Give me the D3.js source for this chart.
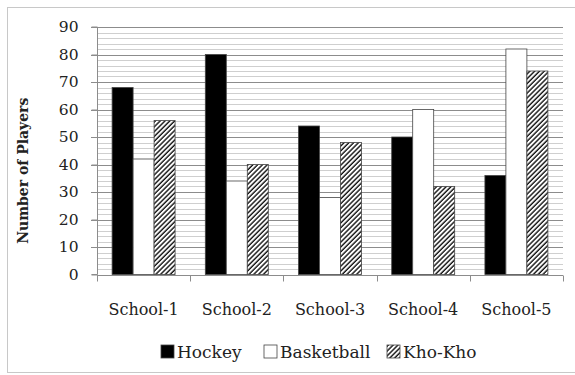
<!DOCTYPE html>
<html lang="en">
<head>
  <meta charset="UTF-8">
  <title>Number of Players by School</title>
  <script src="https://d3js.org/d3.v7.min.js"></script>
  <style>
    body { margin: 0; background: #fff; }
    svg { font-family: "DejaVu Serif", serif; }
    .tick text { fill: #222; }
  </style>
</head>
<body>
  <div id="chart"></div>
  <script>
    // Data
    const schools = ["School-1", "School-2", "School-3", "School-4", "School-5"];
    const series = ["Hockey", "Basketball", "Kho-Kho"];
    const hockey = [68, 80, 54, 50, 36];
    const basketball = [42, 34, 28, 60, 82];
    const khoKho = [56, 40, 48, 32, 74];
    const yTicks = [0, 10, 20, 30, 40, 50, 60, 70, 80, 90];

    const values = { "Hockey": hockey, "Basketball": basketball, "Kho-Kho": khoKho };

    const width = 575, height = 375;
    const margin = { top: 27, right: 12, bottom: 100.5, left: 97 };

    const svg = d3.select("#chart").append("svg")
      .attr("width", width)
      .attr("height", height);

    // hatch pattern for Kho-Kho
    const defs = svg.append("defs");
    defs.append("pattern")
      .attr("id", "hatch")
      .attr("patternUnits", "userSpaceOnUse")
      .attr("width", 3.4)
      .attr("height", 3.4)
      .attr("patternTransform", "rotate(45)")
      .call(p => {
        p.append("rect").attr("width", 3.4).attr("height", 3.4).attr("fill", "#fff");
        p.append("line").attr("x1", 1).attr("x2", 1).attr("y1", 0).attr("y2", 3.4)
          .attr("stroke", "#111").attr("stroke-width", 1.4);
      });

    const fills = { "Hockey": "#000", "Basketball": "#fff", "Kho-Kho": "url(#hatch)" };

    // outer frame
    svg.append("rect")
      .attr("x", 7.5).attr("y", 7.5)
      .attr("width", 580).attr("height", 365)
      .attr("fill", "none")
      .attr("stroke", "#c8c8c8");

    const x0 = d3.scaleBand()
      .domain(schools)
      .range([margin.left, width - margin.right]);

    const x1 = d3.scaleBand()
      .domain(series)
      .range([0, x0.bandwidth()])
      .paddingOuter(0.72);

    const y = d3.scaleLinear()
      .domain([0, 90])
      .range([height - margin.bottom, margin.top]);

    // minor gridlines
    svg.append("g")
      .selectAll("line")
      .data(d3.range(2, 90, 2).filter(v => v % 10 !== 0))
      .join("line")
      .attr("x1", margin.left).attr("x2", width - margin.right)
      .attr("y1", d => Math.round(y(d)) + 0.5).attr("y2", d => Math.round(y(d)) + 0.5)
      .attr("stroke", "#cfcfcf");

    // major gridlines
    svg.append("g")
      .selectAll("line")
      .data(yTicks.slice(1))
      .join("line")
      .attr("x1", margin.left - 6).attr("x2", width - margin.right)
      .attr("y1", d => Math.round(y(d)) + 0.5).attr("y2", d => Math.round(y(d)) + 0.5)
      .attr("stroke", "#8c8c8c");

    // bars
    const groups = svg.append("g")
      .selectAll("g")
      .data(schools)
      .join("g")
      .attr("transform", d => `translate(${x0(d)},0)`);

    groups.selectAll("rect")
      .data((s, i) => series.map(k => ({ key: k, value: values[k][i] })))
      .join("rect")
      .attr("x", d => x1(d.key))
      .attr("y", d => y(d.value))
      .attr("width", x1.bandwidth())
      .attr("height", d => y(0) - y(d.value))
      .attr("fill", d => fills[d.key])
      .attr("stroke", "#444")
      .attr("stroke-width", 0.8);

    // y axis
    const yAxis = svg.append("g")
      .attr("transform", `translate(${margin.left + 0.5},0)`)
      .call(d3.axisLeft(y).tickValues(yTicks).tickSize(6).tickPadding(13))
      .style("font-size", "15.5px")
      .style("font-family", "'DejaVu Serif', serif");
    yAxis.selectAll("line").attr("stroke", "#8c8c8c");
    yAxis.select(".domain").attr("stroke", "#8c8c8c").attr("d", `M-6,${y(0)}H0V${y(90)}H-6`);

    // x axis
    const xAxis = svg.append("g")
      .attr("transform", `translate(0,${Math.round(y(0)) + 0.5})`)
      .call(d3.axisBottom(x0).tickSize(0).tickPadding(28))
      .style("font-size", "16px")
      .style("font-family", "'DejaVu Serif', serif");
    xAxis.select(".domain").attr("stroke", "#8c8c8c").attr("d", `M${margin.left},0H${width - margin.right}`);

    svg.append("g")
      .attr("transform", `translate(0,${Math.round(y(0)) + 0.5})`)
      .selectAll("line")
      .data(schools.map(s => x0(s)).concat([x0.range()[1]]))
      .join("line")
      .attr("x1", d => Math.round(d) + 0.5).attr("x2", d => Math.round(d) + 0.5)
      .attr("y1", 0).attr("y2", 6)
      .attr("stroke", "#8c8c8c");

    // y axis title
    svg.append("text")
      .attr("transform", `translate(28,${(y(0) + y(90)) / 2 + 20}) rotate(-90)`)
      .attr("text-anchor", "middle")
      .style("font-size", "14px")
      .style("font-weight", "bold")
      .style("fill", "#222")
      .text("Number of Players");

    // legend
    const legendX = [161, 264, 387];
    const legend = svg.append("g")
      .selectAll("g")
      .data(series)
      .join("g")
      .attr("transform", (d, i) => `translate(${legendX[i]},345)`);

    legend.append("rect")
      .attr("width", 13).attr("height", 13)
      .attr("fill", d => fills[d])
      .attr("stroke", "#444")
      .attr("stroke-width", 0.8);

    legend.append("text")
      .attr("x", 16)
      .attr("y", 13)
      .style("font-size", "17px")
      .style("fill", "#222")
      .text(d => d);
  </script>
</body>
</html>
